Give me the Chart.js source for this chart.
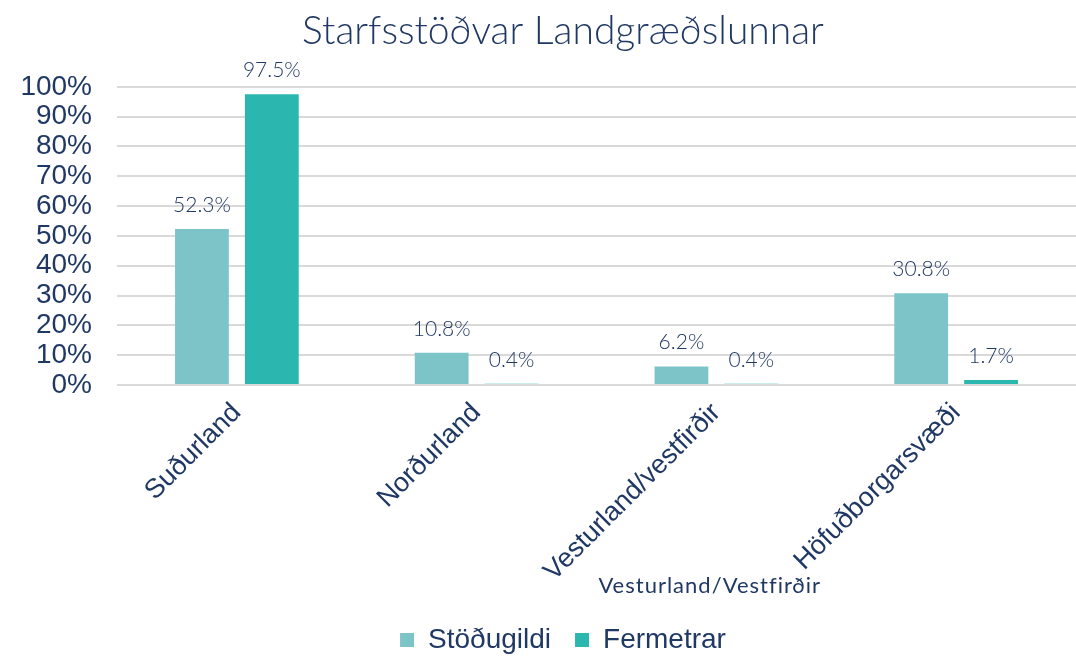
<!DOCTYPE html>
<html>
<head>
<meta charset="utf-8">
<script src="https://cdn.jsdelivr.net/npm/chart.js@4"></script>
<style>
  html, body { margin: 0; padding: 0; background: #fff; }
  #wrap { width: 1076px; height: 656px; }
</style>
</head>
<body>
<div id="wrap"><canvas id="stationChart"></canvas></div>
<script>
const categories = ['Suðurland', 'Norðurland', 'Vesturland/vestfirðir', 'Höfuðborgarsvæði'];
const stodugildi = [52.3, 10.8, 6.2, 30.8];
const fermetrar = [97.5, 0.4, 0.4, 1.7];
const yTicks = [0, 10, 20, 30, 40, 50, 60, 70, 80, 90, 100];

const navy = '#203864';
const armFont = 'Liberation Sans, Arial, sans-serif';
const thinFont = 'Lato, Open Sans, sans-serif';

// value labels above each bar
const barLabels = {
  id: 'barLabels',
  afterDatasetsDraw(chart) {
    const ctx = chart.ctx;
    ctx.save();
    ctx.fillStyle = navy;
    ctx.font = `300 21px ${thinFont}`;
    ctx.textAlign = 'center';
    ctx.textBaseline = 'middle';
    chart.data.datasets.forEach((ds, i) => {
      chart.getDatasetMeta(i).data.forEach((bar, j) => {
        ctx.fillText(ds.data[j].toFixed(1) + '%', bar.x, bar.y - 24);
      });
    });
    ctx.restore();
  }
};

// let the y labels run left of the padded box (title/legend sit right of centre in the original)
const widenYLabels = {
  id: 'widenYLabels',
  beforeDraw(chart) {
    chart.scales.y.left = 10;
  }
};

// axis title as it sits in the original, over the rotated labels
const axisTitle = {
  id: 'axisTitle',
  afterDraw(chart) {
    const ctx = chart.ctx;
    const area = chart.chartArea;
    const text = 'Vesturland/Vestfirðir';
    ctx.save();
    ctx.font = `400 22px ${thinFont}`;
    ctx.letterSpacing = '1px';
    const w = ctx.measureText(text).width;
    const cx = area.left + (area.right - area.left) * 0.618;
    const cy = area.bottom + 201;
    ctx.fillStyle = '#fff';
    ctx.fillRect(cx - w / 2 - 4, cy - 14, w + 8, 28);
    ctx.fillStyle = navy;
    ctx.textAlign = 'center';
    ctx.textBaseline = 'middle';
    ctx.fillText(text, cx, cy);
    ctx.restore();
  }
};

new Chart(document.getElementById('stationChart'), {
  type: 'bar',
  data: {
    labels: categories,
    datasets: [
      { label: 'Stöðugildi', data: stodugildi, backgroundColor: '#7DC4C9' },
      { label: 'Fermetrar', data: fermetrar, backgroundColor: '#2BB6AF' }
    ]
  },
  options: {
    responsive: true,
    maintainAspectRatio: false,
    animation: false,
    layout: { padding: { left: 50, right: 0, top: 0, bottom: -8 } },
    datasets: { bar: { categoryPercentage: 0.583, barPercentage: 0.77 } },
    scales: {
      x: {
        grid: { display: false },
        border: { display: false },
        ticks: {
          color: navy,
          font: { family: armFont, size: 27 },
          minRotation: 45,
          maxRotation: 45,
          padding: 4
        },
        afterFit: (scale) => { scale.height = 217; }
      },
      y: {
        min: 0,
        max: 100,
        afterBuildTicks: (scale) => { scale.ticks = yTicks.map((v) => ({ value: v })); },
        afterFit: (scale) => { scale.width = 67; },
        grid: { color: '#d9d9d9', lineWidth: 2, drawTicks: false },
        border: { display: false },
        ticks: {
          color: navy,
          font: { family: armFont, size: 28 },
          padding: 25,
          autoSkip: false,
          callback: (v) => v + '%'
        }
      }
    },
    plugins: {
      title: {
        display: true,
        text: 'Starfsstöðvar Landgræðslunnar',
        color: navy,
        font: { family: thinFont, size: 39, weight: '300' },
        padding: { top: 8, bottom: 32 }
      },
      legend: {
        position: 'bottom',
        labels: {
          color: navy,
          font: { family: armFont, size: 28 },
          boxWidth: 14,
          boxHeight: 14,
          padding: 24
        }
      },
      tooltip: { enabled: false }
    }
  },
  plugins: [barLabels, widenYLabels, axisTitle]
});
</script>
</body>
</html>
